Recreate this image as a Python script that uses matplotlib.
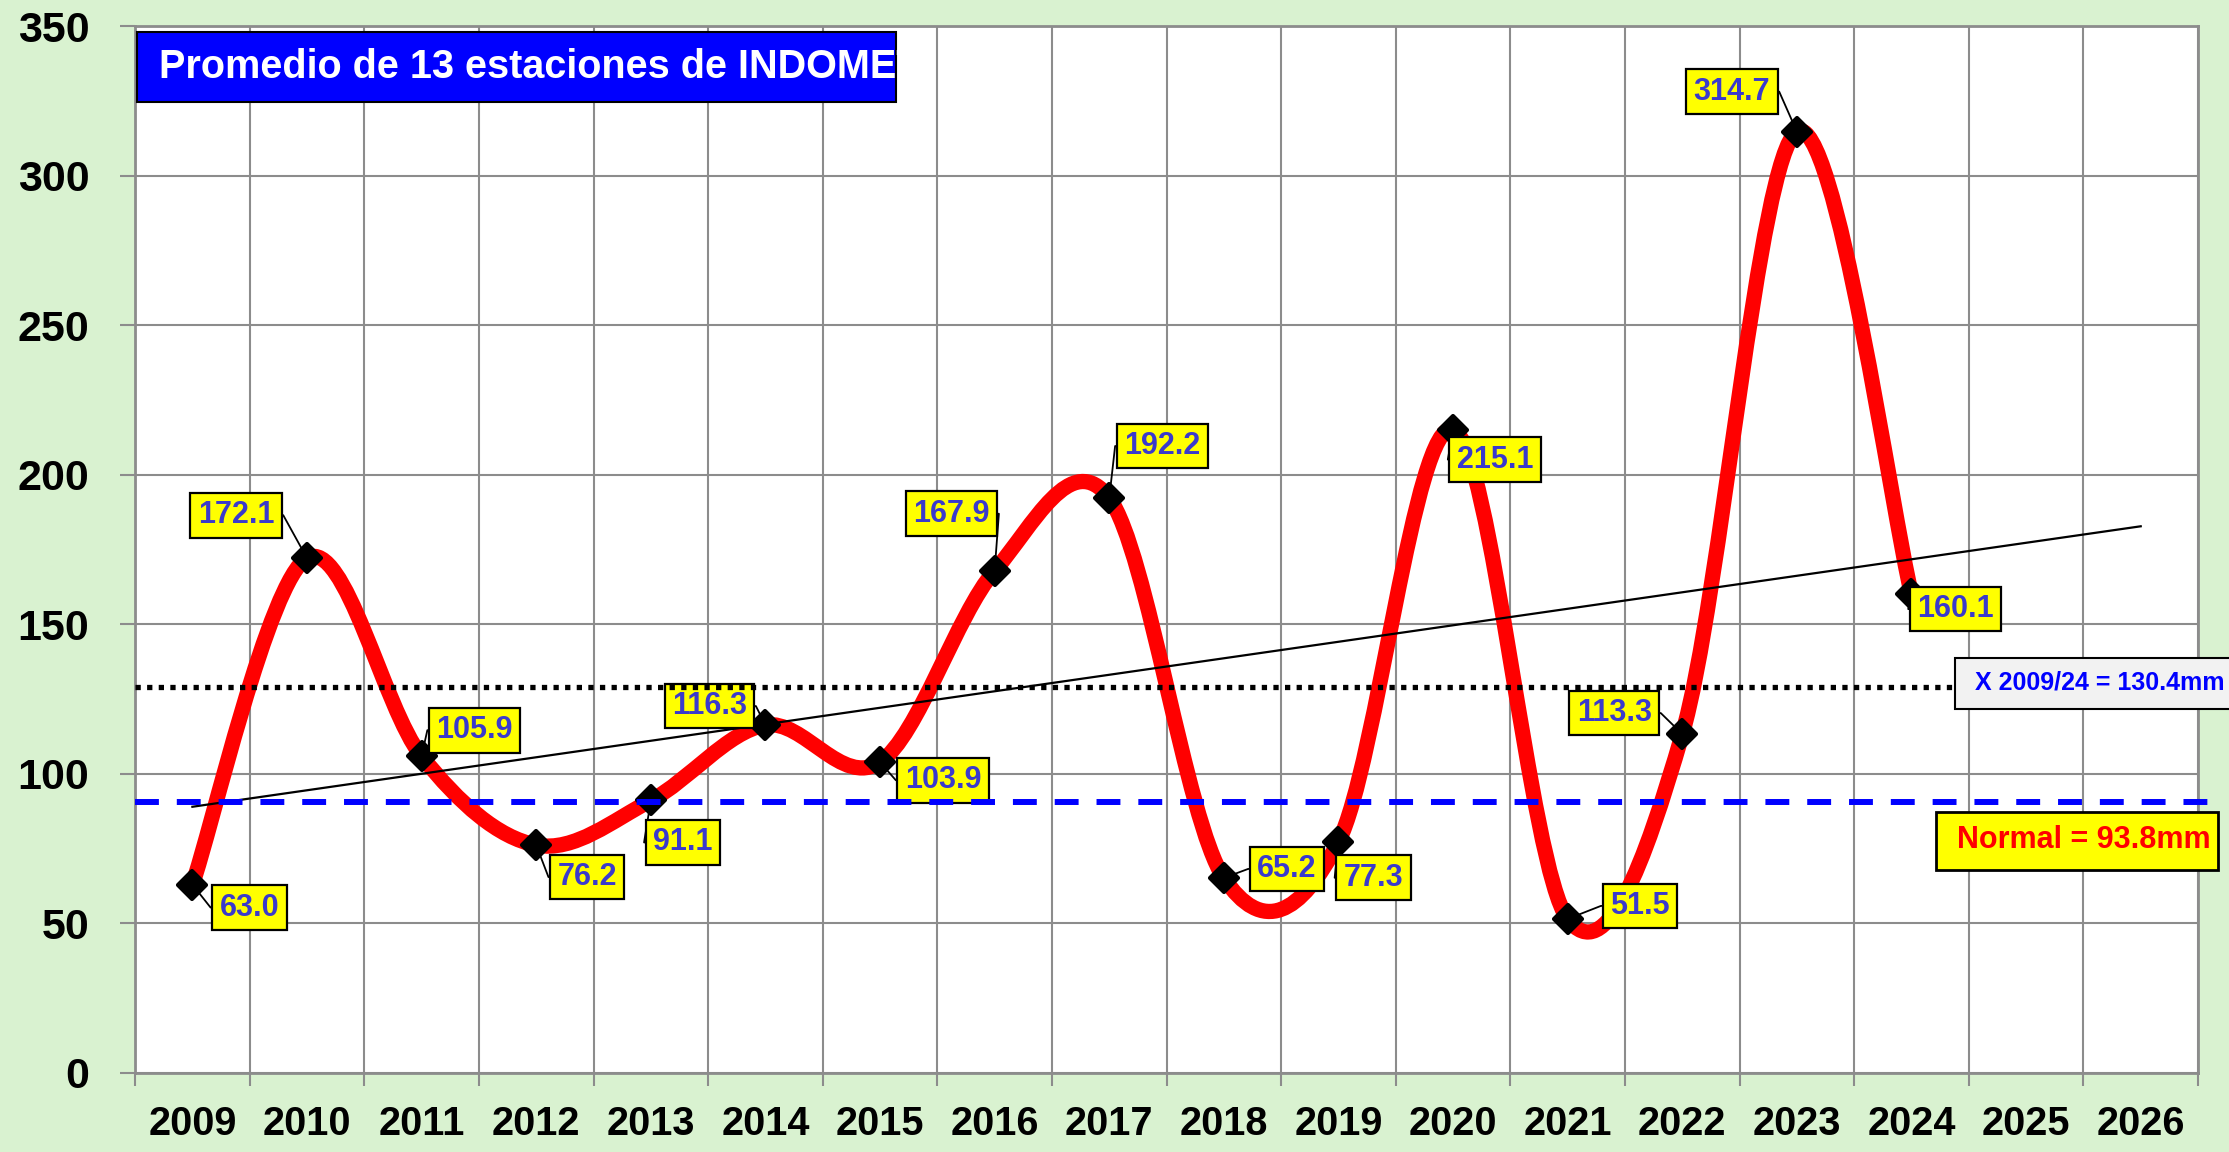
import numpy as np
import matplotlib
matplotlib.use("Agg")
import matplotlib.pyplot as plt
from matplotlib.path import Path
from matplotlib.patches import PathPatch, Rectangle
from matplotlib.markers import MarkerStyle

plt.rcParams['font.family'] = ['Liberation Sans', 'DejaVu Sans']
plt.rcParams['font.weight'] = 'bold'

# categories shown on the axis (data only up to 2024)
years = ["2009", "2010", "2011", "2012", "2013", "2014", "2015", "2016", "2017",
         "2018", "2019", "2020", "2021", "2022", "2023", "2024", "2025", "2026"]
rain = [63.0, 172.1, 105.9, 76.2, 91.1, 116.3, 103.9, 167.9, 192.2,
        65.2, 77.3, 215.1, 51.5, 113.3, 314.7, 160.1]

# reference lines as drawn in the picture, and their captions
mean_level = 129.0
normal_level = 90.5
mean_caption = "X 2009/24 = 130.4mm"
normal_caption = "Normal = 93.8mm"
title_caption = "Promedio de 13 estaciones de INDOMET"
forecast_forward = 2

# where each value label sits relative to its point (pixels)
label_offsets = [(57, -23), (-71, 43), (53, 26), (51, -32), (32, -42), (-56, 19),
                 (63, -18), (-43, 57), (53, 52), (63, 9), (35, -36), (42, -30),
                 (72, 13), (-68, 21), (-65, 40), (44, -15)]

BG = '#d9f2d0'
GRID = '#8c8c8c'
LABEL_BLUE = '#3a3acc'


def smooth_path(xs, ys):
    """Excel-like smoothed line: cubic Bezier through every point"""
    pts = np.column_stack([xs, ys]).astype(float)
    n = len(pts)
    verts = [pts[0]]
    codes = [Path.MOVETO]
    for i in range(n - 1):
        p0 = pts[max(i - 1, 0)]
        p1 = pts[i]
        p2 = pts[i + 1]
        p3 = pts[min(i + 2, n - 1)]
        verts += [p1 + (p2 - p0) / 6, p2 - (p3 - p1) / 6, p2]
        codes += [Path.CURVE4] * 3
    return Path(verts, codes)


fig = plt.figure(figsize=(22.29, 11.52), dpi=100, facecolor=BG)
ax = fig.add_axes([0.0606, 0.0686, 0.9255, 0.9088])
ax.set_facecolor('white')

x = np.arange(len(rain))

# red smoothed series
ax.add_patch(PathPatch(smooth_path(x, rain), facecolor='none', edgecolor='#ff0000',
                       lw=11, capstyle='round', joinstyle='round', zorder=3))

# linear trend, extended two periods forward
coef = np.polyfit(x, rain, 1)
tx = np.array([0, len(rain) - 1 + forecast_forward])
ax.plot(tx, np.polyval(coef, tx), color='black', lw=1.6, zorder=3.5)

# diamond markers
ax.plot(x, rain, linestyle='none', marker=MarkerStyle('D', joinstyle='round'),
        ms=14, mfc='black', mec='black', mew=3, zorder=4)

# value labels
for xi, v, (dx, dy) in zip(x, rain, label_offsets):
    side = (0, 0.5) if dx > 0 else (1, 0.5)
    ang = 180 if dx > 0 else 0
    ax.annotate(f"{v:.1f}", xy=(xi, v), xytext=(dx, dy), textcoords='offset pixels',
                ha='center', va='center', fontsize=22, fontweight='bold',
                color=LABEL_BLUE, zorder=5,
                bbox=dict(boxstyle='square,pad=0.24', fc='#ffff00', ec='black', lw=1.6),
                arrowprops=dict(arrowstyle='-', color='black', lw=1.3, relpos=side,
                                shrinkA=0, shrinkB=0,
                                connectionstyle=f"arc,angleA={ang},armA=9,rad=0"))

# horizontal reference lines
ax.axhline(mean_level, xmin=0, xmax=0.8822, color='black', lw=3.8,
           linestyle=(0, (1, 1.2)), zorder=6)
ax.axhline(normal_level, xmin=0, xmax=1.007, color='#0000ff', lw=4.3,
           linestyle=(0, (4, 3)), zorder=6, clip_on=False)

# caption boxes
ax.add_patch(Rectangle((0.8822, 0.3477), 0.2, 0.0487, transform=ax.transAxes,
                       fc='#f2f2f2', ec='black', lw=1.5, zorder=7, clip_on=False))
ax.text(0.8919, 0.3725, mean_caption, transform=ax.transAxes, fontsize=18,
        fontweight='bold', color='#0000ff', ha='left', va='center', zorder=8,
        clip_on=False)

ax.add_patch(Rectangle((0.873, 0.1939), 0.1367, 0.0554, transform=ax.transAxes,
                       fc='#ffff00', ec='black', lw=2, zorder=7, clip_on=False))
ax.text(0.9445, 0.2221, normal_caption, transform=ax.transAxes, fontsize=22,
        fontweight='bold', color='#ff0000', ha='center', va='center', zorder=8,
        clip_on=False)

title_box = Rectangle((0.001, 0.9274), 0.368, 0.0669, transform=ax.transAxes,
                      fc='#0000ff', ec='black', lw=1.5, zorder=7)
ax.add_patch(title_box)
t = ax.text(0.0116, 0.961, title_caption, transform=ax.transAxes, fontsize=28.5,
            fontweight='bold', color='white', ha='left', va='center', zorder=8)
t.set_clip_path(title_box)

# axes, ticks and grid
ax.set_xlim(-0.5, len(years) - 0.5)
ax.set_ylim(0, 350)
ax.set_xticks(np.arange(len(years)))
ax.set_xticklabels(years)
ax.set_xticks(np.arange(len(years) + 1) - 0.5, minor=True)
ax.set_yticks(np.arange(0, 351, 50))
ax.tick_params(axis='x', which='major', length=0, pad=23, labelsize=28.5)
ax.tick_params(axis='x', which='minor', length=9.5, width=1.5, color=GRID)
ax.tick_params(axis='y', length=11, width=1.5, color=GRID, pad=22, labelsize=31)
for lab in ax.get_xticklabels() + ax.get_yticklabels():
    lab.set_fontweight('bold')
ax.grid(axis='x', which='minor', color=GRID, lw=1.5)
ax.grid(axis='y', which='major', color=GRID, lw=1.5)
ax.set_axisbelow(True)
for s in ax.spines.values():
    s.set_color(GRID)
    s.set_linewidth(2)

fig.savefig('out.png', dpi=100, facecolor=BG)
